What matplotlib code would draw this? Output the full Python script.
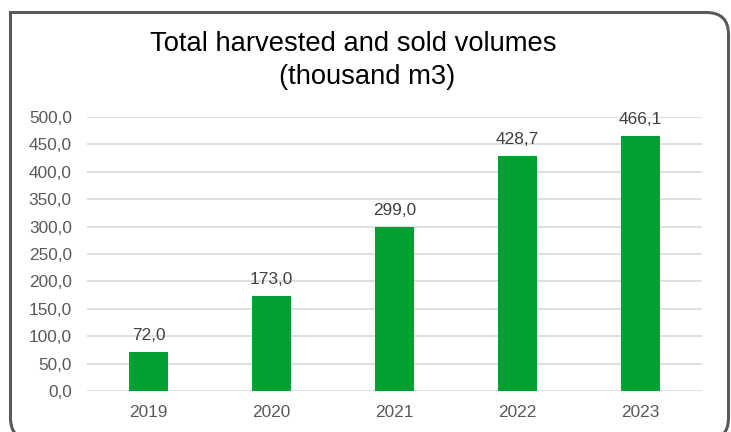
import numpy as np
import matplotlib.pyplot as plt
from matplotlib.path import Path
from matplotlib.patches import PathPatch

plt.rcParams['font.family'] = ['Liberation Sans', 'DejaVu Sans']

# Datos
years = ["2019", "2020", "2021", "2022", "2023"]
volumes = [72.0, 173.0, 299.0, 428.7, 466.1]
y_ticks = [0, 50, 100, 150, 200, 250, 300, 350, 400, 450, 500]

W, H = 731, 432
fig = plt.figure(figsize=(W / 100, H / 100), dpi=100)

# Marco con esquinas redondeadas (menos la superior izquierda)
x0, x1, y0, y1, r = 10.5, 728.5, 12.5, 440, 22
verts = [(x0, y0), (x1 - r, y0), (x1, y0), (x1, y0 + r), (x1, y1 - r), (x1, y1), (x1 - r, y1),
         (x0 + r, y1), (x0, y1), (x0, y1 - r), (x0, y0)]
codes = [Path.MOVETO, Path.LINETO, Path.CURVE3, Path.CURVE3, Path.LINETO, Path.CURVE3, Path.CURVE3,
         Path.LINETO, Path.CURVE3, Path.CURVE3, Path.CLOSEPOLY]
verts = [(vx / W, 1 - vy / H) for vx, vy in verts]
fig.patches.append(PathPatch(Path(verts, codes), transform=fig.transFigure, facecolor='white',
                             edgecolor='#5a5a5a', linewidth=2.2, zorder=-5))

ax = fig.add_axes([87 / W, 1 - 391 / H, (702 - 87) / W, (391 - 117) / H], zorder=2)
ax.set_facecolor('none')
x = np.arange(len(years))
ax.bar(x, volumes, width=0.31, color='#00a033', zorder=3)

for xi, v in zip(x, volumes):
    ax.text(xi, v + 16, f"{v:.1f}".replace(".", ","), ha='center', va='bottom',
            fontsize=12.4, color='#404040', zorder=4)

ax.set_xlim(-0.5, len(years) - 0.5)
ax.set_ylim(0, 500)
ax.set_yticks(y_ticks)
ax.set_yticklabels([f"{t:.1f}".replace(".", ",") for t in y_ticks])
ax.set_xticks(x)
ax.set_xticklabels(years)
ax.tick_params(length=0, labelsize=12.4, labelcolor='#595959')
ax.tick_params(axis='y', pad=11)
ax.tick_params(axis='x', pad=10)
ax.grid(axis='y', color='#d9d9d9', linewidth=1.2, zorder=0)
for s in ax.spines.values():
    s.set_visible(False)

fig.text(353 / W, 1 - 44 / H, "Total harvested and sold volumes", ha='center',
         va='center', fontsize=19.7, color='black')
fig.text(367 / W, 1 - 77 / H, "(thousand m3)", ha='center',
         va='center', fontsize=19.7, color='black')

fig.savefig("out.png", dpi=100)
